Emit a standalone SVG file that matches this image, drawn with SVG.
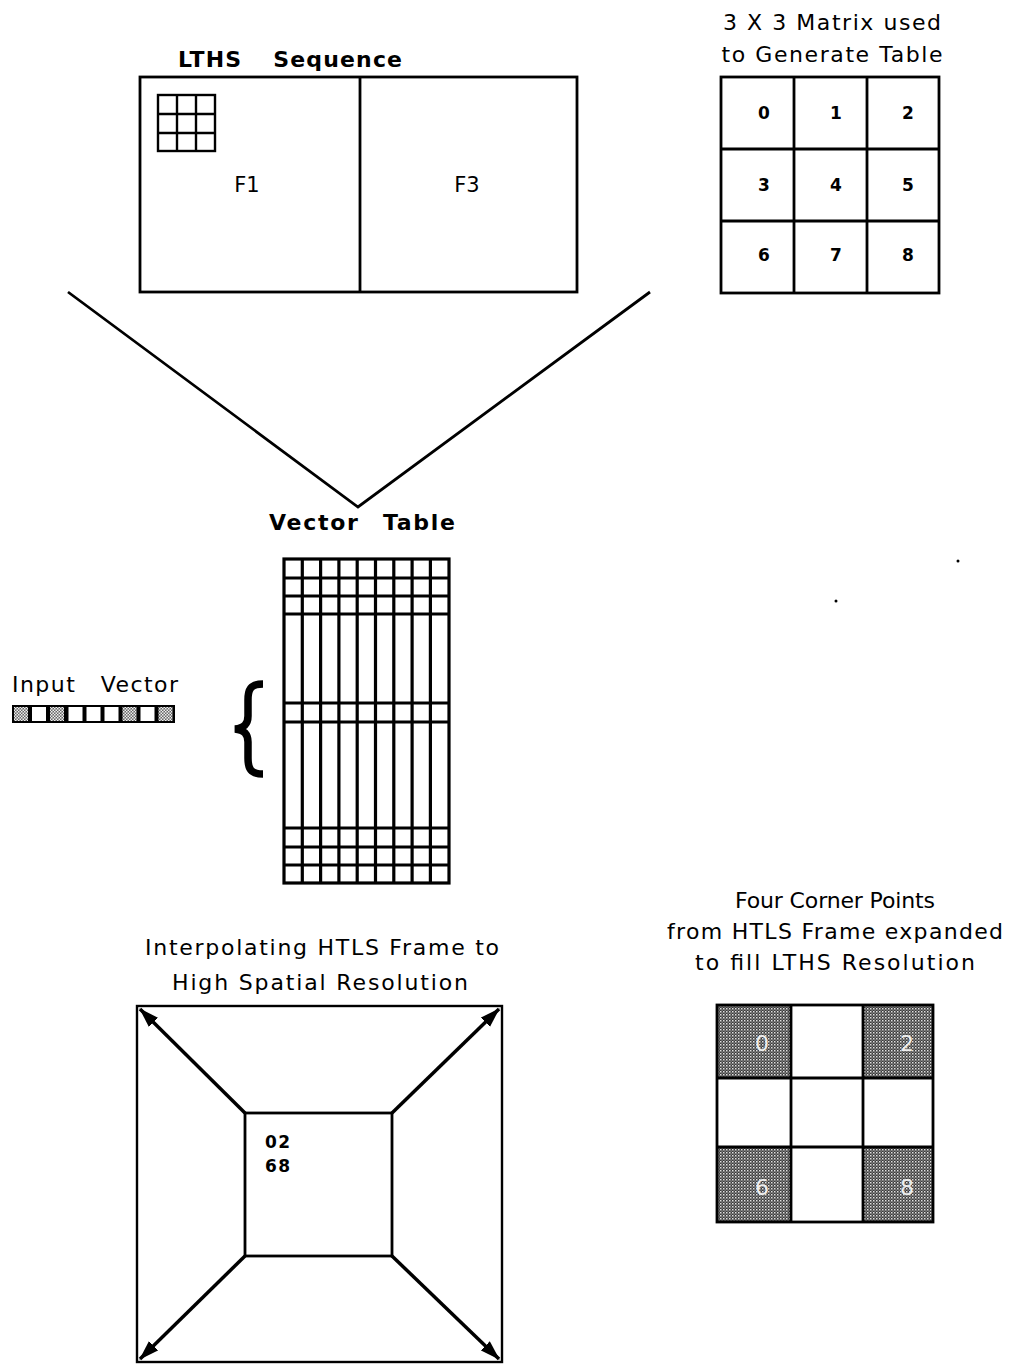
<svg xmlns="http://www.w3.org/2000/svg" width="1013" height="1365" viewBox="0 0 1013 1365">
<style>
.t{font-family:"DejaVu Sans","Liberation Sans",Arial,sans-serif;fill:#000}
.b{font-weight:bold}
.ln{fill:none;stroke:#000;stroke-width:2.8}
.vt{fill:none;stroke:#000;stroke-width:3.2}
.thin{fill:none;stroke:#000;stroke-width:2.4}
.arr{fill:none;stroke:#000;stroke-width:3.5;marker-end:url(#ah)}
</style>
<defs>
<marker id="ah" markerWidth="20" markerHeight="14" refX="19" refY="7" orient="auto" markerUnits="userSpaceOnUse">
<path d="M0,0.5 L20,7 L0,13.5 Z" fill="#000"/>
</marker>
<pattern id="dk" width="3" height="3" patternUnits="userSpaceOnUse">
<rect width="3" height="3" fill="#3a3a3a"/><rect width="1.5" height="1.5" fill="#e0e0e0"/><rect x="1.5" y="1.5" width="1.2" height="1.2" fill="#aaa"/>
</pattern>
<pattern id="lt" width="3" height="3" patternUnits="userSpaceOnUse">
<rect width="3" height="3" fill="#666"/><rect width="1.5" height="1.5" fill="#eee"/><rect x="1.5" y="1.5" width="1.5" height="1.5" fill="#eee"/>
</pattern>
</defs>
<rect width="1013" height="1365" fill="#fff"/>

<g id="lths-sequence">
<text class="t b" x="178" y="67" font-size="22" textLength="224" lengthAdjust="spacing" word-spacing="22">LTHS Sequence</text>
<rect class="ln" x="140" y="77" width="437" height="215"/>
<line class="ln" x1="360" y1="77" x2="360" y2="292"/>
<g class="thin">
<rect x="158" y="95" width="57" height="56"/>
<line x1="177" y1="95" x2="177" y2="151"/><line x1="196" y1="95" x2="196" y2="151"/>
<line x1="158" y1="114" x2="215" y2="114"/><line x1="158" y1="133" x2="215" y2="133"/>
</g>
<text class="t" x="247" y="192" font-size="21" text-anchor="middle">F1</text>
<text class="t" x="467" y="192" font-size="21" text-anchor="middle">F3</text>
</g>

<g id="matrix">
<text class="t" x="832" y="30" font-size="22" text-anchor="middle" textLength="218" lengthAdjust="spacing">3 X 3 Matrix used</text>
<text class="t" x="832" y="62" font-size="22" text-anchor="middle" textLength="221" lengthAdjust="spacing">to Generate Table</text>
<rect class="ln" x="721" y="77" width="218" height="216"/>
<line class="ln" x1="794" y1="77" x2="794" y2="293"/><line class="ln" x1="867" y1="77" x2="867" y2="293"/>
<line class="ln" x1="721" y1="149" x2="939" y2="149"/><line class="ln" x1="721" y1="221" x2="939" y2="221"/>
<g class="t b" font-size="17" text-anchor="middle">
<text x="764" y="119">0</text><text x="836" y="119">1</text><text x="908" y="119">2</text>
<text x="764" y="191">3</text><text x="836" y="191">4</text><text x="908" y="191">5</text>
<text x="764" y="261">6</text><text x="836" y="261">7</text><text x="908" y="261">8</text>
</g>
</g>

<g id="connectors">
<polyline class="ln" points="68,292 358,507 650,292"/>
<path d="M263,684 C250,684 248,690 248,700 L248,716 C248,724 244,728 235,729 C244,730 248,734 248,742 L248,758 C248,768 250,774 263,774" fill="none" stroke="#000" stroke-width="7.5"/>
</g>

<g id="vector-table">
<text class="t b" x="362" y="530" font-size="22" text-anchor="middle" textLength="186" lengthAdjust="spacing" word-spacing="14">Vector Table</text>
<rect class="vt" x="284" y="559" width="165" height="324"/>
<g class="vt">
<line x1="302.3" y1="559" x2="302.3" y2="883"/><line x1="320.6" y1="559" x2="320.6" y2="883"/>
<line x1="338.9" y1="559" x2="338.9" y2="883"/><line x1="357.2" y1="559" x2="357.2" y2="883"/>
<line x1="375.5" y1="559" x2="375.5" y2="883"/><line x1="393.8" y1="559" x2="393.8" y2="883"/>
<line x1="412.1" y1="559" x2="412.1" y2="883"/><line x1="430.4" y1="559" x2="430.4" y2="883"/>
<line x1="284" y1="578" x2="449" y2="578"/><line x1="284" y1="596" x2="449" y2="596"/>
<line x1="284" y1="614" x2="449" y2="614"/><line x1="284" y1="703" x2="449" y2="703"/>
<line x1="284" y1="722" x2="449" y2="722"/><line x1="284" y1="828" x2="449" y2="828"/>
<line x1="284" y1="847" x2="449" y2="847"/><line x1="284" y1="865" x2="449" y2="865"/>
</g>
</g>

<g id="input-vector">
<text class="t" x="12" y="692" font-size="22" textLength="166" lengthAdjust="spacing" word-spacing="16">Input Vector</text>
<rect x="12" y="705" width="163" height="18" fill="#000"/>
<rect x="14" y="707" width="14" height="14" fill="url(#lt)"/>
<rect x="32" y="707" width="14" height="14" fill="#fff"/>
<rect x="50" y="707" width="14" height="14" fill="url(#lt)"/>
<rect x="68.5" y="707" width="14" height="14" fill="#fff"/>
<rect x="86.5" y="707" width="14" height="14" fill="#fff"/>
<rect x="104.5" y="707" width="14" height="14" fill="#fff"/>
<rect x="122.5" y="707" width="14" height="14" fill="url(#lt)"/>
<rect x="140.5" y="707" width="14" height="14" fill="#fff"/>
<rect x="158.5" y="707" width="14" height="14" fill="url(#lt)"/>
</g>

<g id="interpolating-frame">
<text class="t" x="322" y="955" font-size="22" text-anchor="middle" textLength="354" lengthAdjust="spacing">Interpolating HTLS Frame to</text>
<text class="t" x="320" y="990" font-size="22" text-anchor="middle" textLength="296" lengthAdjust="spacing">High Spatial Resolution</text>
<rect class="thin" x="137" y="1006" width="365" height="356"/>
<rect class="ln" x="245" y="1113" width="147" height="143"/>
<line class="arr" x1="245" y1="1113" x2="140" y2="1009"/>
<line class="arr" x1="392" y1="1113" x2="499" y2="1009"/>
<line class="arr" x1="245" y1="1256" x2="140" y2="1359"/>
<line class="arr" x1="392" y1="1256" x2="499" y2="1359"/>
<text class="t" x="265" y="1148" font-size="17" font-weight="bold" letter-spacing="1.5">02</text>
<text class="t" x="265" y="1172" font-size="17" font-weight="bold" letter-spacing="1.5">68</text>
</g>

<g id="four-corner-points">
<text class="t" x="835" y="908" font-size="22" text-anchor="middle" textLength="200" lengthAdjust="spacing">Four Corner Points</text>
<text class="t" x="835" y="939" font-size="22" text-anchor="middle" textLength="336" lengthAdjust="spacing">from HTLS Frame expanded</text>
<text class="t" x="835" y="970" font-size="22" text-anchor="middle" textLength="280" lengthAdjust="spacing">to fill LTHS Resolution</text>
<rect x="717" y="1005" width="74" height="73" fill="url(#dk)"/>
<rect x="863" y="1005" width="70" height="73" fill="url(#dk)"/>
<rect x="717" y="1147" width="74" height="75" fill="url(#dk)"/>
<rect x="863" y="1147" width="70" height="75" fill="url(#dk)"/>
<rect class="ln" x="717" y="1005" width="216" height="217"/>
<line class="ln" x1="791" y1="1005" x2="791" y2="1222"/><line class="ln" x1="863" y1="1005" x2="863" y2="1222"/>
<line class="ln" x1="717" y1="1078" x2="933" y2="1078"/><line class="ln" x1="717" y1="1147" x2="933" y2="1147"/>
<g class="t" font-size="22" text-anchor="middle" style="fill:#eee">
<text x="762" y="1051">0</text><text x="907" y="1051">2</text>
<text x="762" y="1195">6</text><text x="907" y="1195">8</text>
</g>
</g>

<circle cx="958" cy="561" r="1.5" fill="#000"/>
<circle cx="836" cy="601" r="1.5" fill="#000"/>
</svg>
